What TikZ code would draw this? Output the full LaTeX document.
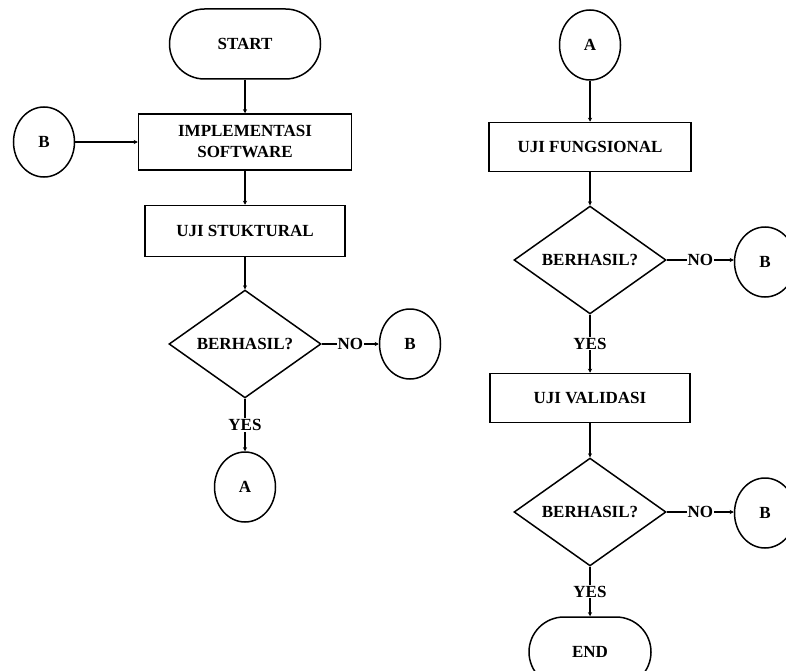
\documentclass[tikz,border=0pt]{standalone}
\usepackage{fontspec}
\setmainfont{Liberation Serif}
\usepackage{tikz}
\usetikzlibrary{shapes.geometric,arrows.meta}

\begin{document}
\begin{tikzpicture}[x=1pt, y=-1pt, line width=1.5pt,
    font=\fontsize{17}{21}\selectfont\bfseries,
    terminal/.style={draw, rectangle, rounded corners=35pt, minimum height=70pt},
    process/.style={draw, rectangle, align=center},
    decision/.style={draw, diamond, inner sep=0pt, minimum width=152pt, minimum height=104pt},
    connector/.style={draw, ellipse, minimum width=61pt, minimum height=70pt, inner sep=0pt},
    flow/.style={-{Stealth[length=4pt,width=4pt]}},
    lbl/.style={fill=white, inner sep=1pt}]
        \useasboundingbox (0,0) rectangle (786,671);

        % Left column
        \node[terminal, minimum width=151pt] (start) at (245,44) {START};
        \node[process, minimum width=213pt, minimum height=56pt] (impl) at (245,142) {IMPLEMENTASI\\SOFTWARE};
        \node[connector] (bin) at (44,142) {B};
        \node[process, minimum width=200pt, minimum height=51pt] (struk) at (245,231) {UJI STUKTURAL};
        \node[decision] (cek1) at (245,344) {BERHASIL?};
        \node[connector] (bout1) at (410,344) {B};
        \node[connector] (aout) at (245,487) {A};

        % Right column
        \node[connector] (ain) at (590,45) {A};
        \node[process, minimum width=202pt, minimum height=49pt] (fungsi) at (590,147) {UJI FUNGSIONAL};
        \node[decision] (cek2) at (590,260) {BERHASIL?};
        \node[connector] (bout2) at (765,262) {B};
        \node[process, minimum width=200pt, minimum height=49pt] (valid) at (590,398) {UJI VALIDASI};
        \node[decision] (cek3) at (590,512) {BERHASIL?};
        \node[connector] (bout3) at (765,513) {B};
        \node[terminal, minimum width=122pt] (stop) at (590,652) {END};

        % Arrows
        \draw[flow] (start) -- (impl);
        \draw[flow] (bin) -- (impl);
        \draw[flow] (impl) -- (struk);
        \draw[flow] (struk) -- (cek1);
        \draw[flow] (cek1) -- (bout1) node[lbl, midway] {NO};
        \draw[flow] (cek1) -- (aout) node[lbl, midway] {YES};
        \draw[flow] (ain) -- (fungsi);
        \draw[flow] (fungsi) -- (cek2);
        \draw[flow] (cek2.east) -- (bout2.west |- cek2) node[lbl, midway] {NO};
        \draw[flow] (cek2) -- (valid) node[lbl, midway] {YES};
        \draw[flow] (valid) -- (cek3);
        \draw[flow] (cek3.east) -- (bout3.west |- cek3) node[lbl, midway] {NO};
        \draw[flow] (cek3) -- (stop) node[lbl, midway] {YES};
    \end{tikzpicture}
\end{document}
